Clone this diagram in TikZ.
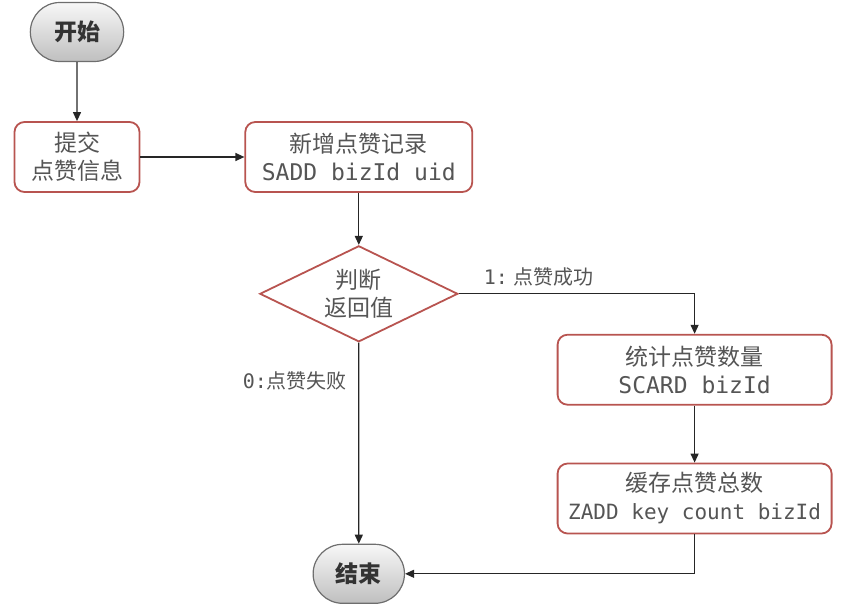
\documentclass[tikz,border=0pt]{standalone}
\usepackage{fontspec}
\setmainfont{Noto Sans CJK SC}
\newfontfamily\codefont{DejaVu Sans Mono}
\usepackage{xcolor}
\usepackage{tikz}
\usetikzlibrary{arrows.meta,positioning,shapes.geometric,shapes.misc}
\definecolor{boxred}{RGB}{184,84,80}
\definecolor{txtgray}{RGB}{85,85,85}
\definecolor{termline}{RGB}{110,110,110}

\begin{document}
\begin{tikzpicture}[x=1pt, y=-1pt, line width=1.2pt,
    box/.style={draw=boxred, line width=1.8pt, rounded corners=10pt, fill=white, text=txtgray, align=center, minimum height=70pt, inner sep=2pt, font=\fontsize{23}{28}\selectfont},
    term/.style={rounded rectangle, draw=termline, line width=1.2pt, top color=black!3, bottom color=black!25, text=black!80, minimum height=59pt, font=\fontsize{23}{28}\selectfont\bfseries},
    decide/.style={diamond, draw=boxred, line width=1.8pt, aspect=2, minimum width=198pt, minimum height=96pt, inner sep=0pt, text=txtgray, align=center, font=\fontsize{23}{28}\selectfont},
    lbl/.style={text=txtgray, font=\fontsize{20}{24}\selectfont},
    flow/.style={-{Triangle[length=9pt,width=8pt]}, draw=black!85}]
    \useasboundingbox (0,0) rectangle (841,603);
    \node[term, minimum width=100pt] (start) at (77,32) {开始};
    \node[box, minimum width=125pt, below=59pt of start] (submit) {提交\\点赞信息};
    \node[box, minimum width=227pt, right=104pt of submit] (add) {新增点赞记录\\{\codefont SADD bizId uid}};
    \node[decide, below=52pt of add] (judge) {判断\\返回值};
    \node[box, minimum width=274pt, below right=40pt and 98pt of judge.east] (count) {统计点赞数量\\{\codefont SCARD bizId}};
    \node[box, minimum width=274pt, below=57pt of count] (cache) {缓存点赞总数\\{\codefont\fontsize{21}{26}\selectfont ZADD key count bizId}};
    \node[term, minimum width=98pt, below=201pt of judge] (stop) {结束};
    \draw[flow] (start) -- (submit);
    \draw[flow] (submit) -- (add);
    \draw[flow] (add) -- (judge);
    \draw[flow] (judge.east) -| node[lbl, above, pos=0.17, yshift=4pt] {{\codefont 1:} 点赞成功} (count);
    \draw[flow] (judge) -- node[lbl, left, pos=0.19, xshift=-8pt] {{\codefont 0:}点赞失败} (stop);
    \draw[flow] (count) -- (cache);
    \draw[flow] (cache) |- (stop);
\end{tikzpicture}
\end{document}
